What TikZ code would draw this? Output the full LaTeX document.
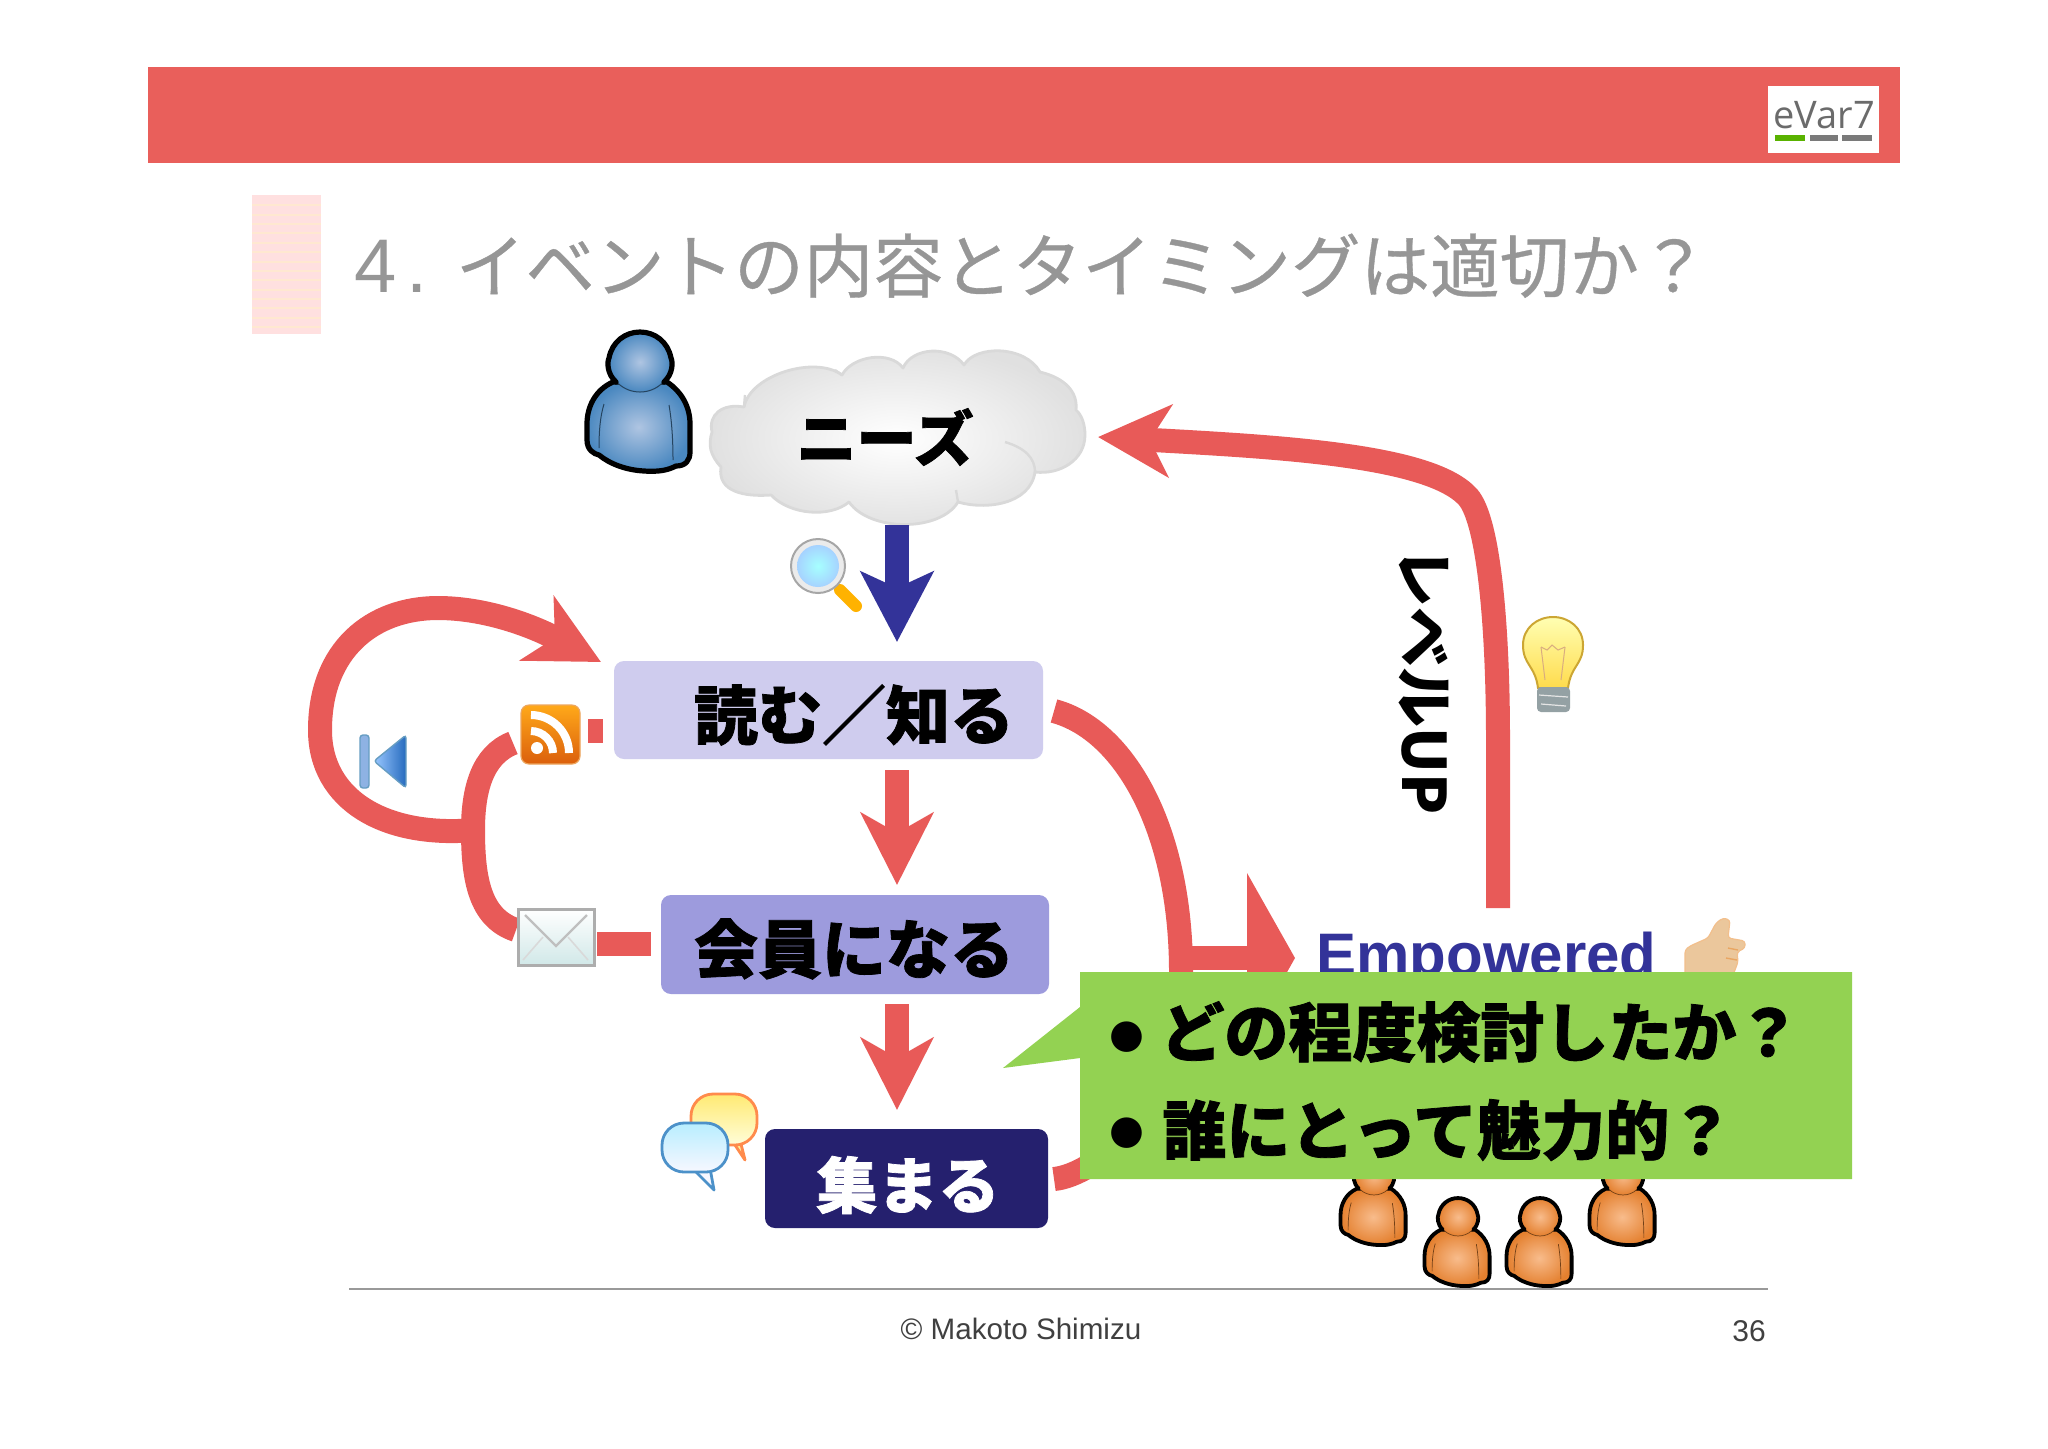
\documentclass[tikz,border=0pt]{standalone}
\usepackage{fontspec}
\usetikzlibrary{arrows.meta,calc}
\setmainfont{Liberation Sans}
\newfontfamily\jpr{Noto Sans CJK JP}[BoldFeatures={FakeBold=1.2}]
\newfontfamily\jpn{Noto Sans CJK JP}
\newfontfamily\jpt{Noto Sans CJK JP}[FakeBold=0.5]
\newfontfamily\ltn{Liberation Sans}
\newfontfamily\opn{Open Sans}
\newfontfamily\djv{DejaVu Sans}
\newcommand{\fsz}[1]{\fontsize{#1}{#1}\selectfont}
\definecolor{redA}{HTML}{E85A58}
\definecolor{redH}{HTML}{E95F5B}
\definecolor{navyA}{HTML}{333399}
\definecolor{greenC}{HTML}{93D252}
\definecolor{titleG}{HTML}{969696}
\definecolor{boxA}{HTML}{CFCCEE}
\definecolor{boxB}{HTML}{9D9BDD}
\definecolor{boxC}{HTML}{25206E}
\definecolor{blueO}{HTML}{4A88C0}
\definecolor{blueI}{HTML}{AFC5E2}
\definecolor{orO}{HTML}{E4802F}
\definecolor{orI}{HTML}{F8BC8C}
\definecolor{skin}{HTML}{EBC79C}
\tikzset{
  x=0.5pt,y=-0.5pt,
  redline/.style={draw=redA,line width=12pt},
  redarrow/.style={redline,-{Stealth[length=36pt,width=36pt,inset=10pt]}},
  bluearrow/.style={draw=navyA,line width=12pt,-{Stealth[length=35pt,width=36pt,inset=8pt]}},
  boxnode/.style={rounded corners=5pt,inner sep=0pt},
  boxtext/.style={inner sep=0pt,font=\jpr\bfseries\fsz{32}},
  lbl/.style={inner sep=0pt},
}
% person icon: x y scale outer-colour inner-colour thick thin
\newcommand{\personicon}[7]{%
\begin{scope}[shift={(#1,#2)},scale=#3]
  \path[draw=black,line width=#6,line join=round,inner color=#5,outer color=#4,shade]
    (-27,20) .. controls (-45,28) and (-53,45) .. (-53,62)
    -- (-53,78) .. controls (-53,88) and (-46,92) .. (-41,93)
    .. controls (-30,102) and (-14,108) .. (4,109)
    .. controls (20,110) and (28,108) .. (36,104)
    .. controls (46,104) and (50,98) .. (50,90) -- (50,62)
    .. controls (50,45) and (42,30) .. (27,20) -- cycle;
  \draw[line width=#7,draw=#4!50!black] (-36,42) .. controls (-40,55) and (-41,70) .. (-41,86);
  \draw[line width=#7,draw=#4!50!black] (29,43) .. controls (32,60) and (33,80) .. (33,98);
  \path[inner color=#5,outer color=#4,shade] (0,0) circle[x radius=31,y radius=30];
  \draw[line width=#7,draw=#4!50!black] (-31,0) .. controls (-31,17) and (-17,30) .. (0,30) .. controls (17,30) and (31,17) .. (31,0);
  \draw[line width=#6,line cap=round] (-24,20) .. controls (-33,12) and (-33,0) .. (-31,-4) .. controls (-28,-20) and (-15,-30) .. (0,-30) .. controls (15,-30) and (28,-20) .. (31,-4) .. controls (33,0) and (33,12) .. (24,20);
\end{scope}}
\begin{document}
\begin{tikzpicture}
\useasboundingbox (0,0) rectangle (2048,1448);
\fill[white] (0,0) rectangle (2048,1448);

% header
\fill[redH] (148,67) rectangle (1900,163);
\fill[white] (1768,86) rectangle (1879,153);
\node[lbl,anchor=base,text=black!58,font=\opn\fsz{19}] (logo) at (1824,128) {eVar7};
\fill[green!50!yellow!70!black] (1775,135) rectangle (1805,141);
\fill[black!52] (1810,135) rectangle (1838,141);
\fill[black!52] (1842,135) rectangle (1872,141);

% title marker
\fill[red!12!white] (252,195) rectangle (321,334);
\foreach \yy in {205,215,224,233,243,252,262,271,280,290,299,308,318,327}
  \draw[orange!18!white,line width=.6pt] (252,\yy) -- (321,\yy);
\node[lbl,anchor=base west,text=titleG] (title) at (354,292)
  {{\ltn\fsz{38}4\kern5pt.}\kern14pt{\jpt\fsz{34.8}イベントの内容とタイミングは適切か？}};

% cloud
\path[draw=black!15,line width=1.4pt,inner color=white,outer color=black!12,shade,line join=round]
  (712,432) .. controls (708,415) and (722,403) .. (744,407)
  .. controls (750,375) and (815,355) .. (842,375)
  .. controls (852,356) and (890,350) .. (903,368)
  .. controls (912,347) and (950,345) .. (964,365)
  .. controls (975,345) and (1025,345) .. (1040,372)
  .. controls (1065,378) and (1078,392) .. (1076,410)
  .. controls (1082,415) and (1085,425) .. (1085,435)
  .. controls (1085,460) and (1060,475) .. (1035,472)
  .. controls (1030,505) and (985,510) .. (958,502)
  .. controls (940,532) and (870,532) .. (849,502)
  .. controls (830,518) and (790,515) .. (771,495)
  .. controls (745,497) and (717,492) .. (721,467)
  .. controls (710,455) and (708,445) .. (712,432) -- cycle;
\draw[black!15,line width=1.2pt] (1005,442) .. controls (1025,448) and (1035,458) .. (1035,472);
\draw[black!15,line width=1.2pt] (958,502) -- (956,490);
\draw[black!15,line width=1.2pt] (842,375) -- (835,370);
\draw[black!15,line width=1.2pt] (744,407) -- (745,395);
\node[lbl,font=\jpr\bfseries\fsz{30}] (needs) at (885,437) {ニーズ};

% person blue
\personicon{640}{362}{1}{blueO}{blueI}{2.6pt}{0.5pt}

% magnifier
\draw[line width=6pt,draw=orange!60!yellow,line cap=round] (840,590) -- (856,606);
\path[draw=black!35,line width=1pt,fill=black!8] (818,566) circle[radius=27];
\path[inner color=cyan!35,outer color=cyan!50!blue!35,shade] (818,566) circle[radius=21];

% connectors
\coordinate (cloudS) at (897,525);
\coordinate (readIn) at (897,642);
\coordinate (readS) at (897,770);
\coordinate (joinIn) at (897,885);
\coordinate (joinS) at (897,1004);
\coordinate (gatherIn) at (897,1110);
\draw[bluearrow] (cloudS) -- (readIn);
\draw[redarrow] (readS) -- (joinIn);
\draw[redarrow] (joinS) -- (gatherIn);

% feedback loop
\coordinate (loopStart) at (475,830);
\coordinate (loopTip) at (601,662);
\draw[redarrow] (loopStart) .. controls (385,838) and (320,800) .. (320,730)
  .. controls (320,650) and (372,608) .. (438,608)
  .. controls (480,608) and (525,622) .. (loopTip);
\coordinate (rssEnd) at (513,743);
\coordinate (mailEnd) at (516,930);
\draw[redline] (rssEnd) .. controls (482,755) and (473,790) .. (473,830)
  .. controls (473,880) and (480,918) .. (mailEnd);
\coordinate (rssBarA) at (588,731);
\coordinate (rssBarB) at (603,731);
\draw[redline] (rssBarA) -- (rssBarB);
\coordinate (mailBarA) at (597,944);
\coordinate (mailBarB) at (651,944);
\draw[redline] (mailBarA) -- (mailBarB);

% to Empowered
\coordinate (readE) at (1054,711);
\coordinate (gatherE) at (1054,1179);
\coordinate (empJoin) at (1181,958);
\coordinate (empTip) at (1295,958);
\draw[redline] (readE) .. controls (1125,730) and (1181,830) .. (1181,972);
\draw[redline] (gatherE) .. controls (1095,1175) and (1181,1110) .. (1181,972);
\draw[draw=redA,line width=12pt,-{Triangle[length=24pt,width=84pt]}] (empJoin) -- (empTip);

% level up
\coordinate (empN) at (1498,908);
\coordinate (needsTip) at (1098,437);
\draw[redarrow] (empN) -- (1498,740) .. controls (1498,620) and (1488,520) .. (1468,497)
  .. controls (1430,455) and (1280,447) .. (needsTip);
\node[lbl,rotate=-90,font=\jpn\bfseries\fsz{30}] (levelup) at (1424,681) {レベルUP};

% boxes
\node[boxnode,fill=boxA,minimum width=214.5pt,minimum height=49pt] (read) at (828.5,710) {};
\node[boxtext] (readT) at (854,715) {読む／知る};
\node[boxnode,fill=boxB,minimum width=194pt,minimum height=49.5pt] (join) at (855,944.5) {};
\node[boxtext] (joinT) at (854,949) {会員になる};
\node[boxnode,fill=boxC,minimum width=141.5pt,minimum height=49.5pt] (gather) at (906.5,1178.5) {};
\node[boxtext,text=white,font=\jpr\bfseries\fsz{30.5}] (gatherT) at (908,1185) {集まる};

% rss
\path[rounded corners=4pt,draw=orange!60!brown!70,line width=.6pt,top color=orange!75!yellow!90!white,bottom color=orange!80!red!85!black!95] (521,705) rectangle (580,764);
\fill[white] (537,748) circle[radius=6];
\draw[white,line width=4pt] (531,715) .. controls (552,715) and (569,732) .. (569,753);
\draw[white,line width=4pt] (531,731) .. controls (543,731) and (553,741) .. (553,753);

% mail
\path[draw=black!32,line width=1.5pt,top color=white,bottom color=teal!18!white] (518,909) rectangle (594,965);
\draw[black!25,line width=1.2pt] (525,915) -- (556,946) -- (587,915);
\draw[black!15,line width=.8pt] (523,960) -- (543,937);
\draw[black!15,line width=.8pt] (588,960) -- (568,937);

% back icon
\path[rounded corners=1.5pt,draw=blue!40!cyan!60!black!60,line width=.7pt,fill=cyan!55!blue!45!white] (360,735) rectangle (369,788);
\path[rounded corners=1.5pt,draw=blue!40!cyan!60!black!60,line width=.7pt,left color=cyan!45!blue!40,right color=blue!55!cyan!70!black!85] (406,735) -- (374,761) -- (406,788) -- cycle;

% bulb
\path[draw=orange!50!yellow!75!black!80,line width=1pt,top color=yellow!30!white,bottom color=orange!40!yellow!70!white]
  (1538,688) .. controls (1535,665) and (1523,665) .. (1523,645)
  .. controls (1523,628) and (1537,617) .. (1553,617)
  .. controls (1569,617) and (1583,628) .. (1583,645)
  .. controls (1583,665) and (1571,665) .. (1568,688) -- cycle;
\draw[black!30!orange!50,line width=.5pt] (1541,647) -- (1545,680);
\draw[black!30!orange!50,line width=.5pt] (1565,647) -- (1561,680);
\draw[black!30!orange!50,line width=.5pt] (1541,647) -- (1547,650) -- (1552,645) -- (1558,650) -- (1565,647);
\path[rounded corners=2pt,fill=blue!20!cyan!15!black!42!white] (1537,687) rectangle (1570,712);
\draw[white!80!gray,line width=.6pt] (1539,695) -- (1568,697);
\draw[white!80!gray,line width=.6pt] (1541,704) -- (1566,706);

% speech bubbles
\path[draw=orange!70!red!70,line width=1.4pt,top color=orange!30!yellow!55!white,bottom color=orange!10!yellow!15!white,line join=round] (735,1145) -- (745,1160) -- (740,1140) -- cycle;
\path[rounded corners=11pt,draw=orange!70!red!70,line width=1.4pt,top color=orange!30!yellow!55!white,bottom color=orange!10!yellow!15!white] (691,1094) rectangle (757,1145);
\path[draw=blue!45!cyan!70!black!70,line width=1.4pt,fill=blue!3!white,line join=round] (694,1170) -- (714,1190) -- (710,1168) -- cycle;
\path[rounded corners=11pt,draw=blue!45!cyan!70!black!70,line width=1.4pt,top color=blue!25!cyan!28!white,bottom color=blue!3!white] (662,1123) rectangle (728,1172);

% Empowered + hand
\node[lbl,anchor=base west,text=navyA,font=\ltn\bfseries\fsz{30}] (emp) at (1316,975) {Empowered};
\path[fill=skin,draw=orange!60!brown!50,line width=.6pt,rounded corners=1.5pt]
  (1685,975) -- (1685,950) -- (1690,946) -- (1708,938) -- (1716,923) -- (1723,918) -- (1730,920) -- (1728,938)
  -- (1745,941) -- (1745,948) -- (1737,952) -- (1738,962) -- (1733,975) -- cycle;
\draw[orange!50!brown!70,line width=.7pt] (1728,948) -- (1738,950);
\draw[orange!50!brown!70,line width=.7pt] (1726,958) -- (1737,960);

% people
\personicon{1374}{1176}{.632}{orO}{orI}{1.9pt}{0.35pt}
\personicon{1623}{1176}{.632}{orO}{orI}{1.9pt}{0.35pt}
\personicon{1458}{1217}{.632}{orO}{orI}{1.9pt}{0.35pt}
\personicon{1540}{1217}{.632}{orO}{orI}{1.9pt}{0.35pt}

% callout
\fill[greenC] (1080,972) -- (1852,972) -- (1852,1179) -- (1080,1179) -- (1080,1058) -- (1003,1068) -- (1080,1007) -- cycle;
\node[lbl,font=\djv\fsz{20}] (bulA) at (1127,1037) {●};
\node[lbl,font=\djv\fsz{20}] (bulB) at (1127,1133) {●};
\node[lbl,anchor=west,font=\jpr\bfseries\fsz{32}] (lineA) at (1160,1032) {どの程度検討したか？};
\node[lbl,anchor=west,font=\jpr\bfseries\fsz{32}] (lineB) at (1162,1130) {誰にとって魅力的？};

% footer
\draw[black!40,line width=1pt] (349,1289) -- (1768,1289);
\node[lbl,text=black!75,font=\ltn\fsz{14.8}] (copy) at (1021,1329) {© Makoto Shimizu};
\node[lbl,text=black!75,font=\ltn\fsz{15}] (page) at (1749,1331) {36};
\end{tikzpicture}
\end{document}
